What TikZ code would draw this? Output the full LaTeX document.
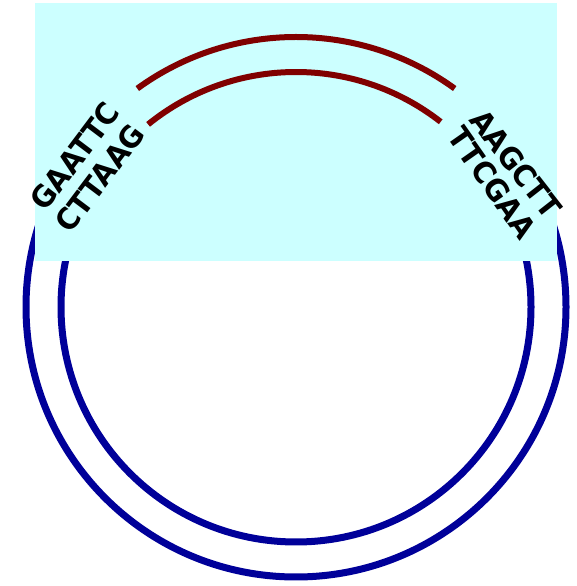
\documentclass[tikz,border=0pt]{standalone}
\usepackage{fontspec}
\usetikzlibrary{calc}
\newfontfamily\labfont{DejaVu Sans}[FakeStretch=0.95]
\definecolor{plasblue}{HTML}{000099}
\definecolor{insred}{HTML}{800000}
\definecolor{cyanbg}{HTML}{CCFFFF}
\begin{document}
\begin{tikzpicture}[x=1pt,y=1pt,
  plasmid/.style={draw=plasblue,line width=7pt},
  insert/.style={draw=insred,line width=6pt},
  seq/.style={font=\labfont\bfseries\fontsize{30}{30}\selectfont,inner sep=0pt,text=black}]
\useasboundingbox (0,0) rectangle (576,586);
\coordinate (c) at (296,279);
\draw[plasmid] (c) circle[radius=270pt];
\draw[plasmid] (c) circle[radius=235pt];
\fill[cyanbg] (35,325) rectangle (557,583);
\draw[insert] ($(c)+(54:270pt)$) arc[start angle=54,end angle=126,radius=270pt];
\draw[insert] ($(c)+(52:235pt)$) arc[start angle=52,end angle=129,radius=235pt];
\node[seq,rotate=53] (l1) at (75,430) {GAATTC};
\node[seq,rotate=53] (l2) at (100,408) {CTTAAG};
\node[seq,rotate=-52] (r1) at (516,422) {AAGCTT};
\node[seq,rotate=-55] (r2) at (492,403) {TTCGAA};
\end{tikzpicture}
\end{document}
